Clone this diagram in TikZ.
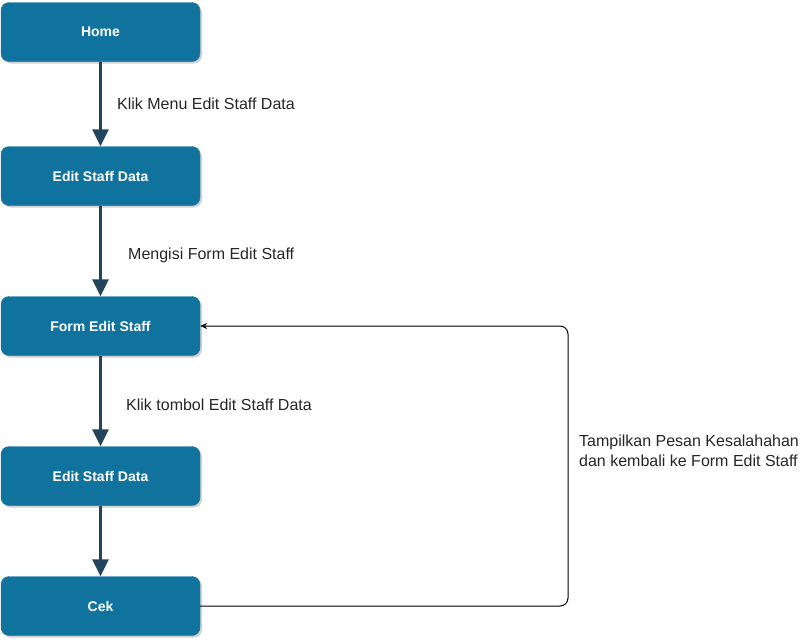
\documentclass[tikz,border=0pt]{standalone}
\usepackage{fontspec}
\setmainfont{Liberation Sans}
\usetikzlibrary{arrows.meta,shadows}
\definecolor{boxblue}{HTML}{10739E}
\definecolor{arrdark}{HTML}{23445D}
\begin{document}
\begin{tikzpicture}[x=1pt,y=-1pt,
  stepbox/.style={draw=boxblue, fill=boxblue, rounded corners=8pt, minimum width=199pt, minimum height=59pt,
    inner sep=0pt, text=white, font=\fontsize{14}{16}\selectfont\bfseries,
    drop shadow={shadow xshift=2pt, shadow yshift=-2pt, fill=black!30, opacity=0.6}},
  flow/.style={draw=arrdark, line width=3pt, -{Triangle[width=16pt,length=17pt]}},
  lbl/.style={font=\fontsize{16}{20}\selectfont, text=black!85, anchor=west, inner sep=0pt},
  back/.style={draw=black, line width=1pt, rounded corners=8pt, -{Stealth[width=6pt,length=7pt]}}]
\useasboundingbox (0,0) rectangle (809,640);
\node[stepbox] (home) at (100.5,32) {Home};
\node[stepbox] (esd1) at (100.5,176) {Edit Staff Data};
\node[stepbox] (form) at (100.5,326) {Form Edit Staff};
\node[stepbox] (esd2) at (100.5,476) {Edit Staff Data};
\node[stepbox] (cek) at (100.5,606) {Cek};
\draw[flow] (home) -- (esd1);
\draw[flow] (esd1) -- (form);
\draw[flow] (form) -- (esd2);
\draw[flow] (esd2) -- (cek);
\node[lbl] (l1) at (117,104) {Klik Menu Edit Staff Data};
\node[lbl] (l2) at (128,255) {Mengisi Form Edit Staff};
\node[lbl] (l3) at (126,405) {Klik tombol Edit Staff Data};
\coordinate (c1) at (568,606);
\coordinate (c2) at (568,326);
\draw[back] (cek.east) -- (c1) -- (c2) -- (form.east);
\node[lbl, align=left] (l4) at (579,451) {Tampilkan Pesan Kesalahahan\\dan kembali ke Form Edit Staff};
\end{tikzpicture}
\end{document}
